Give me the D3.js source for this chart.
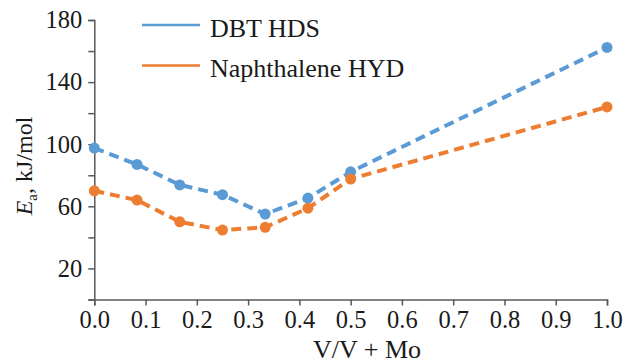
<!DOCTYPE html>
<html>
<head>
<meta charset="utf-8">
<script src="https://cdn.jsdelivr.net/npm/d3@7"></script>
<style>
   body { margin: 0; background: #fff; }
   svg text { font-family: "Liberation Serif", "DejaVu Serif", serif !important; fill: #1a1a1a; }
</style>
</head>
<body>
<div id="mainChart"></div>
<script>
// Data
const xValues = [0, 1 / 12, 2 / 12, 3 / 12, 4 / 12, 5 / 12, 6 / 12, 1.0]
const dbtHds = [97.5, 87, 73.8, 67.5, 55, 65.3, 82.2, 162.3]
const naphHyd = [70, 64, 50, 44.7, 46.5, 58.8, 77.6, 124]
const seriesNames = ["DBT HDS", "Naphthalene HYD"]
const xTicks = [0, 0.1, 0.2, 0.3, 0.4, 0.5, 0.6, 0.7, 0.8, 0.9, 1.0]
const yTicks = [0, 20, 40, 60, 80, 100, 120, 140, 160, 180]
const yLabels = [20, 60, 100, 140, 180]

const W = 629, H = 364
const margin = { top: 20, right: 22, bottom: 64.5, left: 94.3 }
const width = W - margin.left - margin.right
const height = H - margin.top - margin.bottom

const colors = ["#5b9bd5", "#ed7d31"]
const axisColor = "#595959"

const charts = [
   { id: "dbt", data: xValues.map((x, i) => ({ x: x, value: dbtHds[i] })), color: colors[0], name: seriesNames[0] },
   { id: "naph", data: xValues.map((x, i) => ({ x: x, value: naphHyd[i] })), color: colors[1], name: seriesNames[1] }
]

let x = d3.scaleLinear().domain([0, 1]).range([0, width])
let y = d3.scaleLinear().domain([0, 180]).range([height, 0])

let svg = d3.select("#mainChart").append("svg")
   .attr("width", W)
   .attr("height", H)

let g = svg.append("g")
   .attr("transform", "translate(" + margin.left + "," + margin.top + ")")

// Axes
let xAxis = d3.axisBottom(x)
   .tickValues(xTicks)
   .tickFormat(d3.format(".1f"))
   .tickSize(6)
   .tickPadding(8)

let yAxis = d3.axisLeft(y)
   .tickValues(yTicks)
   .tickFormat(d => yLabels.includes(d) ? d : "")
   .tickSize(6)
   .tickPadding(6)

let horizontalAxis = g.append("g")
   .attr("transform", "translate(0," + height + ")")
   .call(xAxis)

let verticalAxis = g.append("g").call(yAxis)

;[horizontalAxis, verticalAxis].forEach(ax => {
   ax.attr("font-family", null)
   ax.select(".domain").attr("stroke", axisColor).attr("stroke-width", 1.5)
   ax.selectAll(".tick line").attr("stroke", axisColor).attr("stroke-width", 1.5)
   ax.selectAll(".tick text")
      .attr("fill", "#1a1a1a")
      .style("font-size", "24.5px")
})

horizontalAxis.selectAll(".tick text").attr("y", 11)
verticalAxis.selectAll(".tick text").attr("x", -12)

// Line generator
let line = d3.line()
   .x(d => x(d.x))
   .y(d => y(d.value))

charts.forEach(chart => {
   g.append("path")
      .datum(chart.data)
      .attr("class", "line " + chart.id)
      .attr("d", line)
      .attr("fill", "none")
      .attr("stroke", chart.color)
      .attr("stroke-width", 4)
      .attr("stroke-dasharray", "10 6")

   g.selectAll("circle." + chart.id).data(chart.data)
      .join("circle")
      .attr("class", chart.id)
      .attr("cx", d => x(d.x))
      .attr("cy", d => y(d.value))
      .attr("r", 5.5)
      .attr("fill", chart.color)
})

// Legend
let legend = svg.append("g")
charts.forEach((chart, i) => {
   let ly = 25 + i * 40.5
   legend.append("line")
      .attr("x1", 142).attr("x2", 200)
      .attr("y1", ly).attr("y2", ly)
      .attr("stroke", chart.color)
      .attr("stroke-width", 2.5)
   legend.append("text")
      .attr("x", 210)
      .attr("y", ly + 11.5)
      .style("font-size", "26px")
      .text(chart.name)
})

// Axis titles
svg.append("text")
   .attr("x", 367)
   .attr("y", 358)
   .attr("text-anchor", "middle")
   .style("font-size", "26px")
   .text("V/V + Mo")

let yTitle = svg.append("text")
   .attr("transform", "translate(32,166) rotate(-90)")
   .attr("text-anchor", "middle")
   .style("font-size", "24px")
yTitle.append("tspan").style("font-style", "italic").text("E")
yTitle.append("tspan").attr("dy", 5).style("font-size", "15px").text("a")
yTitle.append("tspan").attr("dy", -5).text(", kJ/mol")
</script>
</body>
</html>
